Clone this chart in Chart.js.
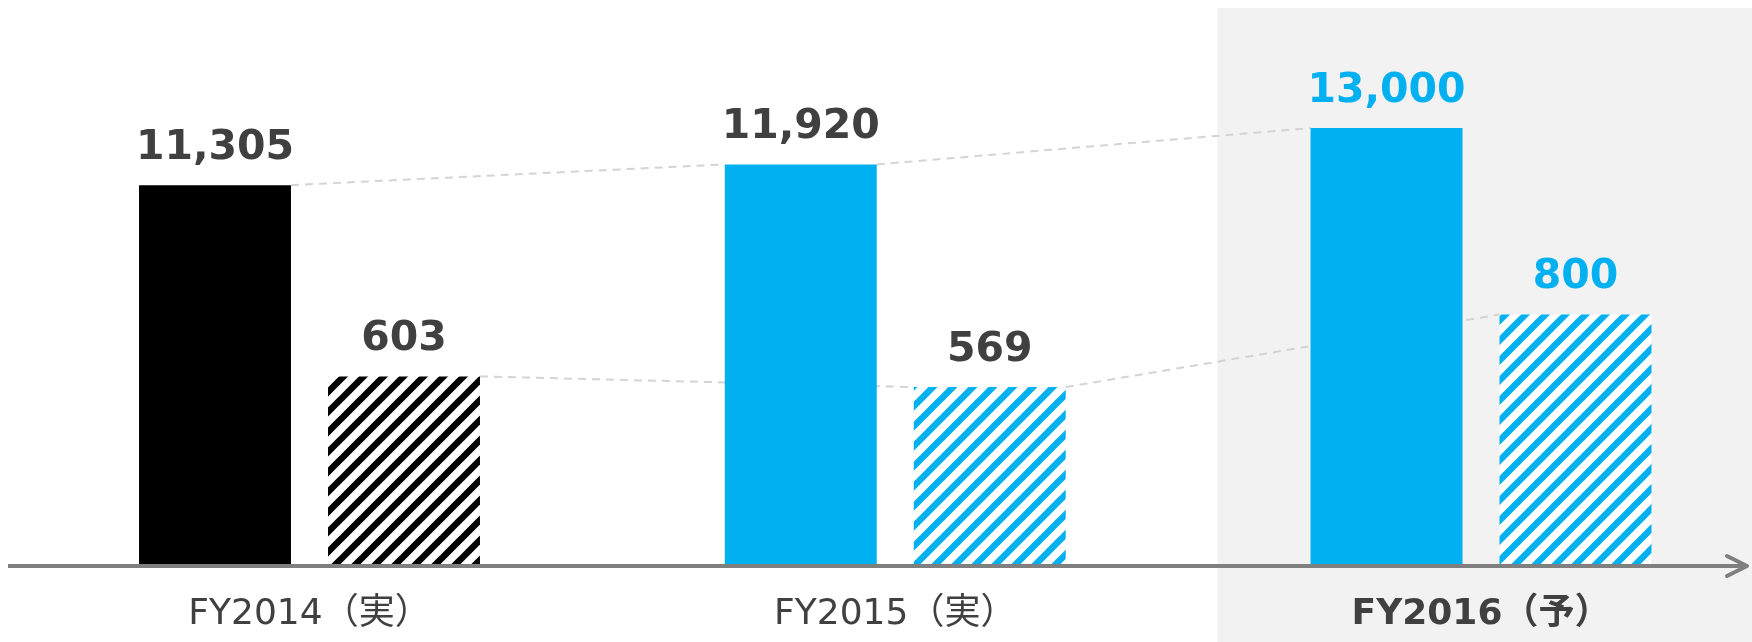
<!DOCTYPE html>
<html>
<head>
<meta charset="utf-8">
<script src="https://cdn.jsdelivr.net/npm/chart.js@4/dist/chart.umd.min.js"></script>
<style>
  html, body { margin: 0; padding: 0; background: #fff; }
  #wrap { width: 1752px; height: 642px; position: relative; }
</style>
</head>
<body>
<div id="wrap"><canvas id="sales-profit-chart"></canvas></div>
<script>
const categories = ['FY2014（実）', 'FY2015（実）', 'FY2016（予）'];
const salesValues = [11305, 11920, 13000];
const profitValues = [603, 569, 800];
const forecastIndex = 2;

const BLUE = '#00b0f0';
const TEXT = '#404040';
const FONT = "'DejaVu Sans', Verdana, 'Noto Sans CJK JP', sans-serif";

function hatch(color) {
    const size = 20;
    const c = document.createElement('canvas');
    c.width = size;
    c.height = size;
    const g = c.getContext('2d');
    g.fillStyle = '#ffffff';
    g.fillRect(0, 0, size, size);
    g.strokeStyle = color;
    g.lineWidth = 6.5;
    // lines x + y = k, long enough to wrap cleanly across tiles
    for (const k of [0, size, 2 * size]) {
        g.beginPath();
        g.moveTo(k + size, -size);
        g.lineTo(k - 2 * size, 2 * size);
        g.stroke();
    }
    return g.createPattern(c, 'repeat');
}

// grey band behind the forecast year
const forecastBand = {
    id: 'forecastBand',
    beforeDraw(chart) {
        const { ctx, scales: { x } } = chart;
        const step = x.getPixelForValue(1) - x.getPixelForValue(0);
        const left = x.getPixelForValue(forecastIndex) - step * 0.45;
        ctx.save();
        ctx.fillStyle = '#f2f2f2';
        ctx.fillRect(left, 8, chart.width - left, chart.height - 8);
        ctx.restore();
    }
};

// dashed lines joining the tops of the same series
const connectors = {
    id: 'connectors',
    beforeDatasetsDraw(chart) {
        const ctx = chart.ctx;
        ctx.save();
        ctx.strokeStyle = '#d4d4d4';
        ctx.lineWidth = 2;
        ctx.setLineDash([8, 6]);
        chart.data.datasets.forEach((ds, di) => {
            const bars = chart.getDatasetMeta(di).data;
            for (let i = 0; i < bars.length - 1; i++) {
                const a = bars[i], b = bars[i + 1];
                ctx.beginPath();
                ctx.moveTo(a.x + a.width / 2, a.y);
                ctx.lineTo(b.x - b.width / 2, b.y);
                ctx.stroke();
            }
        });
        ctx.restore();
    }
};

// value labels above bars + arrow axis
const labelsAndAxis = {
    id: 'labelsAndAxis',
    afterDatasetsDraw(chart) {
        const ctx = chart.ctx;
        ctx.save();
        ctx.font = 'bold 41px ' + FONT;
        ctx.textAlign = 'center';
        ctx.textBaseline = 'alphabetic';
        chart.data.datasets.forEach((ds, di) => {
            chart.getDatasetMeta(di).data.forEach((bar, i) => {
                ctx.fillStyle = i === forecastIndex ? BLUE : TEXT;
                ctx.fillText(ds.data[i].toLocaleString('en-US'), bar.x, bar.y - 26);
            });
        });

        const y = chart.chartArea.bottom;
        const right = chart.width - 5;
        ctx.strokeStyle = '#7f7f7f';
        ctx.lineWidth = 4;
        ctx.beginPath();
        ctx.moveTo(8, y);
        ctx.lineTo(right, y);
        ctx.stroke();
        ctx.lineCap = 'round';
        ctx.lineJoin = 'round';
        ctx.beginPath();
        ctx.moveTo(right - 20, y - 10);
        ctx.lineTo(right, y);
        ctx.lineTo(right - 20, y + 10);
        ctx.stroke();
        ctx.restore();
    }
};

const data = {
    labels: categories,
    datasets: [{
        label: '売上高',
        data: salesValues,
        backgroundColor: ['#000000', BLUE, BLUE],
        yAxisID: 'ySales',
        clip: false
    }, {
        label: '営業利益',
        data: profitValues,
        backgroundColor: [hatch('#000000'), hatch(BLUE), hatch(BLUE)],
        yAxisID: 'yProfit',
        clip: false
    }]
};

const config = {
    type: 'bar',
    data,
    options: {
        responsive: true,
        maintainAspectRatio: false,
        animation: false,
        categoryPercentage: 0.6453,
        barPercentage: 0.804,
        layout: { padding: { left: 309.5, right: 271, top: 0, bottom: 6 } },
        plugins: { legend: { display: false }, tooltip: { enabled: false } },
        scales: {
            x: {
                offset: false,
                grid: { display: false, drawTicks: false },
                border: { display: false },
                afterFit: (scale) => { scale.height = 70; },
                ticks: {
                    padding: 27,
                    color: TEXT,
                    font: (c) => ({ family: FONT, size: 36, weight: c.index === forecastIndex ? 'bold' : 'normal' })
                }
            },
            ySales: { display: false, min: 0, max: 16800 },
            yProfit: { display: false, min: 0, max: 1800 }
        }
    },
    plugins: [forecastBand, connectors, labelsAndAxis]
};

const salesProfitChart = new Chart(document.querySelector('#sales-profit-chart'), config);
</script>
</body>
</html>
